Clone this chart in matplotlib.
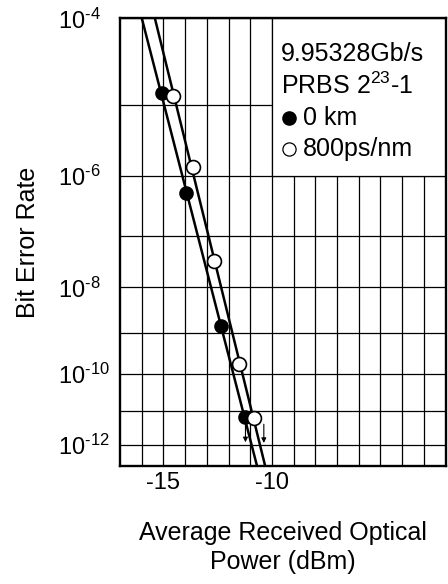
import numpy as np
import matplotlib
matplotlib.use('Agg')
import matplotlib.pyplot as plt
from matplotlib.transforms import offset_copy
from matplotlib.patches import Rectangle
from matplotlib.ticker import FixedLocator, FixedFormatter

plt.rcParams['font.family'] = ['Liberation Sans', 'DejaVu Sans']
plt.rcParams['mathtext.fontset'] = 'custom'
plt.rcParams['mathtext.rm'] = 'Liberation Sans'
plt.rcParams['mathtext.it'] = 'Liberation Sans:italic'
plt.rcParams['mathtext.bf'] = 'Liberation Sans:bold'
plt.rcParams['axes.unicode_minus'] = False

# ---------------- data ----------------
power_0km = [-15.08, -13.96, -12.35, -11.25]
ber_0km = [1.4e-5, 5.4e-7, 1.45e-9, 6.6e-12]
power_800 = [-14.55, -13.63, -12.66, -11.52, -10.82]
ber_800 = [1.3e-5, 1.35e-6, 3.4e-8, 1.8e-10, 6.3e-12]

y_major = [1e-4, 1e-6, 1e-8, 1e-10, 1e-12]
y_major_labels = [r'10$^{\text{-4}}$', r'10$^{\text{-6}}$',
                  r'10$^{\text{-8}}$', r'10$^{\text{-10}}$',
                  r'10$^{\text{-12}}$']
y_minor = [1e-5, 1e-7, 1e-9, 1e-11]
x_major = [-15, -10]
x_major_labels = ['-15', '-10']
x_minor = list(range(-16, -2))
legend_lines = ['9.95328Gb/s', r'PRBS 2$^{\text{23}}$-1', '0 km', '800ps/nm']

x_lim = (-17, -2)
y_lim = (10 ** -12.66, 1e-4)


# BER scale: -log10(-log10(BER))
def fwd(y):
    y = np.asarray(y, dtype=float)
    with np.errstate(all='ignore'):
        return -np.log10(-np.log10(y))


def inv(t):
    t = np.asarray(t, dtype=float)
    with np.errstate(all='ignore'):
        return 10.0 ** (-(10.0 ** (-t)))


fig = plt.figure(figsize=(4.48, 5.84), dpi=100)
ax = fig.add_axes([120 / 448, 1 - 465.5 / 584, 325.5 / 448, 447.2 / 584])

# fitted straight lines in the BER scale
t_top = np.log10(-np.log10(y_lim[1]))
t_bot = np.log10(-np.log10(y_lim[0]))
tt = np.linspace(t_top, t_bot, 100)
for px, pb in [(power_0km, ber_0km), (power_800, ber_800)]:
    t = np.log10(-np.log10(np.array(pb)))
    a, b = np.polyfit(t, np.array(px), 1)
    ax.plot(a * tt + b, 10.0 ** (-(10.0 ** tt)), color='black', lw=1.8,
            zorder=3, solid_capstyle='butt')

ax.plot(power_0km, ber_0km, 'o', ms=9.5, mfc='black', mec='black',
        mew=1.0, zorder=4, clip_on=False)
ax.plot(power_800, ber_800, 'o', ms=10, mfc='white', mec='black',
        mew=1.2, zorder=4, clip_on=False)

# "error free" arrows below the last points
for px, pb, dx in [(power_0km, ber_0km, 0.5), (power_800, ber_800, 7.0)]:
    start = offset_copy(ax.transData, fig=fig, x=dx, y=-4.5, units='points')
    end = offset_copy(ax.transData, fig=fig, x=dx, y=-18, units='points')
    ax.annotate('', xy=(px[-1], pb[-1]), xycoords=end,
                xytext=(px[-1], pb[-1]), textcoords=start,
                arrowprops=dict(arrowstyle='-|>', lw=0.8, color='black',
                                mutation_scale=7, shrinkA=0, shrinkB=0),
                zorder=5)

ax.set_yscale('function', functions=(fwd, inv))
ax.set_xlim(*x_lim)
ax.set_ylim(*y_lim)

ax.yaxis.set_major_locator(FixedLocator(y_major))
ax.yaxis.set_major_formatter(FixedFormatter(y_major_labels))
ax.yaxis.set_minor_locator(FixedLocator(y_minor))
ax.xaxis.set_major_locator(FixedLocator(x_major))
ax.xaxis.set_major_formatter(FixedFormatter(x_major_labels))
ax.xaxis.set_minor_locator(FixedLocator(x_minor))

ax.set_axisbelow(True)
ax.grid(True, which='both', color='black', lw=0.9)
ax.tick_params(which='both', length=0)
ax.tick_params(axis='y', labelsize=17, pad=45)
ax.tick_params(axis='x', labelsize=17, pad=5)
for lbl in ax.get_yticklabels():
    lbl.set_horizontalalignment('left')

for sp in ax.spines.values():
    sp.set_linewidth(1.7)
    sp.set_zorder(6)

# legend box (blank region of the grid)
ax.add_patch(Rectangle((-10, 1e-6), 8, 1e-4 - 1e-6, facecolor='white',
                       edgecolor='black', lw=0.9, zorder=1.5))
ys = [0.920, 0.849, 0.777, 0.708]
ax.text(0.495, ys[0], legend_lines[0], transform=ax.transAxes, fontsize=18,
        va='center', ha='left', zorder=7)
ax.text(0.495, ys[1], legend_lines[1], transform=ax.transAxes, fontsize=18,
        va='center', ha='left', zorder=7)
ax.plot([0.519], [ys[2]], 'o', ms=9.5, mfc='black', mec='black',
        transform=ax.transAxes, clip_on=False, zorder=7)
ax.text(0.562, ys[2], legend_lines[2], transform=ax.transAxes, fontsize=18,
        va='center', ha='left', zorder=7)
ax.plot([0.519], [ys[3]], 'o', ms=9.5, mfc='white', mec='black', mew=0.9,
        transform=ax.transAxes, clip_on=False, zorder=7)
ax.text(0.562, ys[3], legend_lines[3], transform=ax.transAxes, fontsize=18,
        va='center', ha='left', zorder=7)

ax.set_ylabel('Bit Error Rate', fontsize=18)
ax.yaxis.set_label_coords(-0.245, 0.5)
ax.set_xlabel('Average Received Optical\nPower (dBm)', fontsize=18,
              linespacing=1.25)
ax.xaxis.set_label_coords(0.5, -0.124)

fig.savefig('out.png', dpi=100)
